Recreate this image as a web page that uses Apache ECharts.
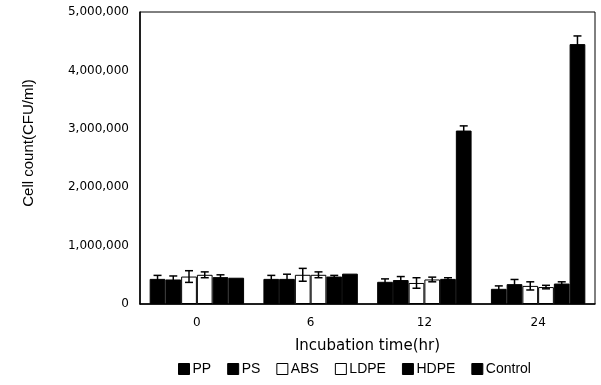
<!DOCTYPE html>
<html>
<head>
<meta charset="utf-8">
<script src="https://cdn.jsdelivr.net/npm/echarts@6/dist/echarts.min.js"></script>
<style>
  html, body { margin: 0; padding: 0; background: #fff; }
  #chart { width: 601px; height: 385px; }
</style>
</head>
<body>
<div id="chart"></div>
<script>
const categories = ['0', '6', '12', '24'];
const seriesNames = ['PP', 'PS', 'ABS', 'LDPE', 'HDPE', 'Control'];

const pp = [430000, 430000, 380000, 260000];
const ps = [420000, 430000, 410000, 340000];
const abs = [470000, 500000, 360000, 310000];
const ldpe = [500000, 500000, 420000, 290000];
const hdpe = [460000, 470000, 430000, 350000];
const control = [450000, 520000, 2970000, 4450000];

const ppErr = [60000, 60000, 50000, 50000];
const psErr = [60000, 80000, 60000, 80000];
const absErr = [100000, 110000, 90000, 70000];
const ldpeErr = [50000, 50000, 40000, 30000];
const hdpeErr = [40000, 20000, 20000, 30000];
const controlErr = [0, 0, 80000, 140000];

const yTicks = [0, 1000000, 2000000, 3000000, 4000000, 5000000];

const values = [pp, ps, abs, ldpe, hdpe, control];
const errors = [ppErr, psErr, absErr, ldpeErr, hdpeErr, controlErr];
const fills = ['#000', '#000', '#fff', '#fff', '#000', '#000'];
const gapRatio = 0.17;
const font = 'Liberation Sans, Arial, sans-serif';

const chart = echarts.init(document.getElementById('chart'));

const barSeries = seriesNames.map((name, i) => ({
  name: name,
  type: 'bar',
  data: values[i],
  barGap: '0%',
  barCategoryGap: (gapRatio * 100) + '%',
  itemStyle: { color: fills[i], borderColor: '#000', borderWidth: 1 }
}));

const errSeries = seriesNames.map((name, i) => ({
  name: name + '-err',
  type: 'custom',
  z: 5,
  data: values[i].map((v, k) => [k, v, errors[i][k]]),
  encode: { x: 0, y: 1 },
  renderItem(params, api) {
    const k = api.value(0), v = api.value(1), e = api.value(2);
    if (!e) { return; }
    const band = api.size([1, 0])[0];
    const bw = band * (1 - gapRatio) / seriesNames.length;
    const cx = api.coord([k, v])[0] + (i - (seriesNames.length - 1) / 2) * bw;
    const hi = api.coord([k, v + e])[1];
    const lo = api.coord([k, v - e])[1];
    const half = 4;
    const style = { stroke: '#000', lineWidth: 1.5 };
    return {
      type: 'group',
      children: [
        { type: 'line', shape: { x1: cx, y1: hi, x2: cx, y2: lo }, style: style },
        { type: 'line', shape: { x1: cx - half, y1: hi, x2: cx + half, y2: hi }, style: style },
        { type: 'line', shape: { x1: cx - half, y1: lo, x2: cx + half, y2: lo }, style: style }
      ]
    };
  }
}));

chart.setOption({
  animation: false,
  textStyle: { fontFamily: font, color: '#000' },
  grid: {
    left: 140, right: 6, top: 12, bottom: 81,
    show: true, borderColor: '#000', borderWidth: 1
  },
  legend: {
    data: seriesNames,
    bottom: 4,
    left: 173,
    icon: 'rect',
    itemWidth: 11,
    itemHeight: 11,
    itemGap: 16,
    textStyle: { fontSize: 14, fontFamily: font, color: '#000', padding: [0, 0, 0, -2] },
    itemStyle: { borderColor: '#000', borderWidth: 1 }
  },
  xAxis: {
    type: 'category',
    data: categories,
    name: 'Incubation time(hr)',
    nameLocation: 'middle',
    nameGap: 35,
    nameTextStyle: { fontSize: 15, fontFamily: 'DejaVu Sans', color: '#000' },
    axisLine: { lineStyle: { color: '#000', width: 1.5 } },
    axisTick: { show: false },
    axisLabel: { margin: 13, fontSize: 12, fontFamily: 'DejaVu Sans', color: '#000' }
  },
  yAxis: {
    type: 'value',
    min: yTicks[0],
    max: yTicks[yTicks.length - 1],
    interval: yTicks[1] - yTicks[0],
    name: 'Cell count(CFU/ml)',
    nameLocation: 'middle',
    nameGap: 104,
    nameTextStyle: { fontSize: 15, fontFamily: font, color: '#000', padding: [0, 0, 0, 30] },
    axisLine: { show: true, lineStyle: { color: '#000', width: 1.5 } },
    axisTick: { show: false },
    splitLine: { show: false },
    axisLabel: {
      margin: 11,
      fontSize: 12,
      fontFamily: 'DejaVu Sans',
      color: '#000',
      formatter: (v) => v.toLocaleString('en-US')
    }
  },
  series: barSeries.concat(errSeries)
});
</script>
</body>
</html>
